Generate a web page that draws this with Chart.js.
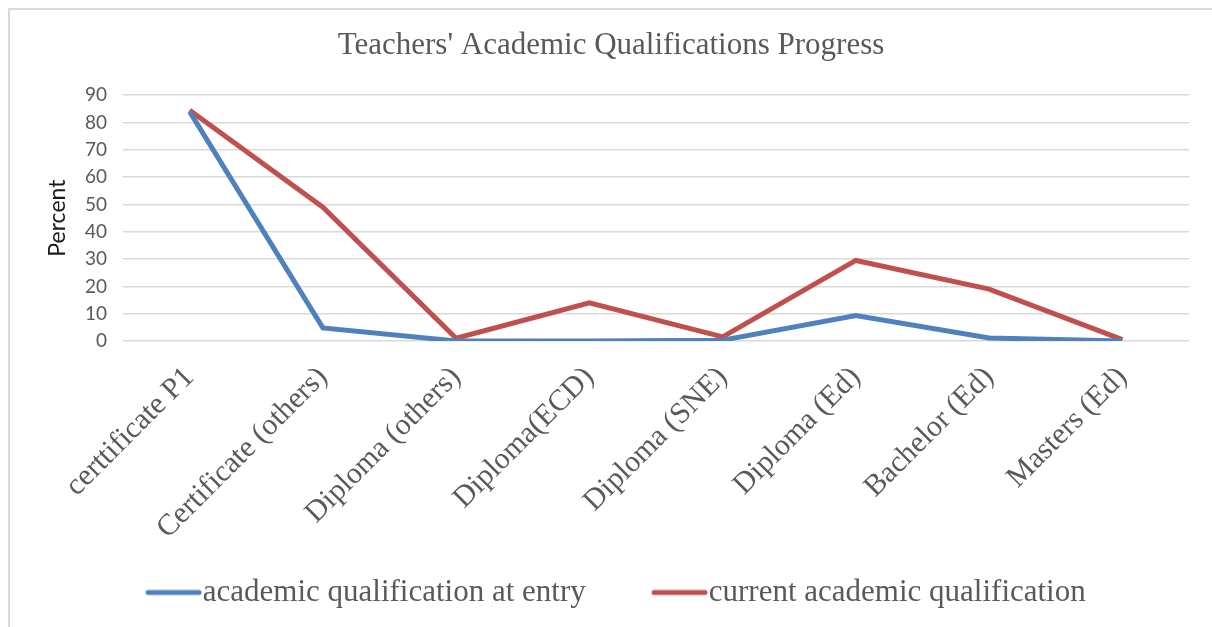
<!DOCTYPE html>
<html>
<head>
<meta charset="utf-8">
<script src="https://cdn.jsdelivr.net/npm/chart.js@4"></script>
<style>
    body { margin: 0; background: #fff; overflow: hidden; }
    #frame {
        position: absolute; left: 8px; top: 8px;
        width: 1204px; height: 619px;
        border-left: 2px solid #d9d9d9;
        border-top: 2px solid #d9d9d9;
    }
    #chart { position: absolute; left: 0; top: 0; }
</style>
</head>
<body>
<div id="frame">
    <canvas id="chart" width="1202" height="617"></canvas>
</div>
<script>
// Categories and series
const categories = [
    'certtificate P1', 'Certificate (others)', 'Diploma (others)', 'Diploma(ECD)',
    'Diploma (SNE)', 'Diploma (Ed)', 'Bachelor (Ed)', 'Masters (Ed)'
];
const atEntry = [84, 4.8, 0, 0, 0.3, 9.3, 1.1, 0];
const currentQual = [84.5, 49, 1, 14, 1.5, 29.5, 19, 0.5];
const yTicks = [0, 10, 20, 30, 40, 50, 60, 70, 80, 90];

const serif = '"Liberation Serif", "Times New Roman", serif';
const sans = 'Lato, "Open Sans", sans-serif';

// legend swatch: wide transparent image with the short line at its right end,
// so the line sits right in front of the text and the blank part spaces the entries
function legendLine(color) {
    const c = document.createElement('canvas');
    c.width = 127;
    c.height = 8;
    const g = c.getContext('2d');
    g.strokeStyle = color;
    g.lineWidth = 5;
    g.lineCap = 'round';
    g.beginPath();
    g.moveTo(127 - 54, 4);
    g.lineTo(127 - 3, 4);
    g.stroke();
    return c;
}

document.addEventListener('DOMContentLoaded', function() {
    const ctx = document.getElementById('chart').getContext('2d');
    new Chart(ctx, {
        type: 'line',
        data: {
            labels: categories,
            datasets: [
                {
                    label: 'academic qualification at entry',
                    data: atEntry,
                    borderColor: '#4F81BD',
                    backgroundColor: '#4F81BD',
                    borderWidth: 5,
                    pointRadius: 0,
                    pointStyle: legendLine('#4F81BD'),
                    tension: 0
                },
                {
                    label: 'current academic qualification',
                    data: currentQual,
                    borderColor: '#C0504D',
                    backgroundColor: '#C0504D',
                    borderWidth: 5,
                    pointRadius: 0,
                    pointStyle: legendLine('#C0504D'),
                    tension: 0
                }
            ]
        },
        options: {
            responsive: false,
            animation: false,
            layout: { padding: { left: 23, right: 23, top: 0, bottom: 9 } },
            plugins: {
                title: {
                    display: true,
                    text: "Teachers' Academic Qualifications Progress",
                    color: '#595959',
                    font: { family: serif, size: 31, weight: 'normal' },
                    padding: { top: 17, bottom: 31 }
                },
                legend: {
                    position: 'bottom',
                    labels: {
                        color: '#595959',
                        font: { family: serif, size: 31 },
                        usePointStyle: true,
                        pointStyleWidth: 97.5,
                        padding: 10,
                        // trailing room after the last entry shifts the row like the original
                        generateLabels: function(chart) {
                            const items = Chart.defaults.plugins.legend.labels.generateLabels(chart);
                            items[items.length - 1].text += '      ';
                            return items;
                        }
                    }
                },
                tooltip: { enabled: false }
            },
            scales: {
                x: {
                    offset: true,
                    grid: { display: false },
                    border: { display: false },
                    ticks: {
                        color: '#595959',
                        font: { family: serif, size: 30 },
                        minRotation: 45,
                        maxRotation: 45,
                        autoSkip: false,
                        padding: 11
                    },
                    afterFit: function(scale) { scale.height = 226; }
                },
                y: {
                    min: 0,
                    max: 90,
                    afterBuildTicks: function(scale) {
                        scale.ticks = yTicks.map(v => ({ value: v }));
                    },
                    grid: { color: '#d9d9d9', lineWidth: 1.5, drawTicks: false },
                    border: { display: false },
                    ticks: {
                        color: '#595959',
                        font: { family: sans, size: 19 },
                        padding: 16
                    },
                    title: {
                        display: true,
                        text: 'Percent',
                        color: '#1a1a1a',
                        font: { family: sans, size: 23 },
                        padding: { top: 11, bottom: 0 }
                    },
                    afterFit: function(scale) { scale.width = 90; }
                }
            }
        }
    });
});
</script>
</body>
</html>
